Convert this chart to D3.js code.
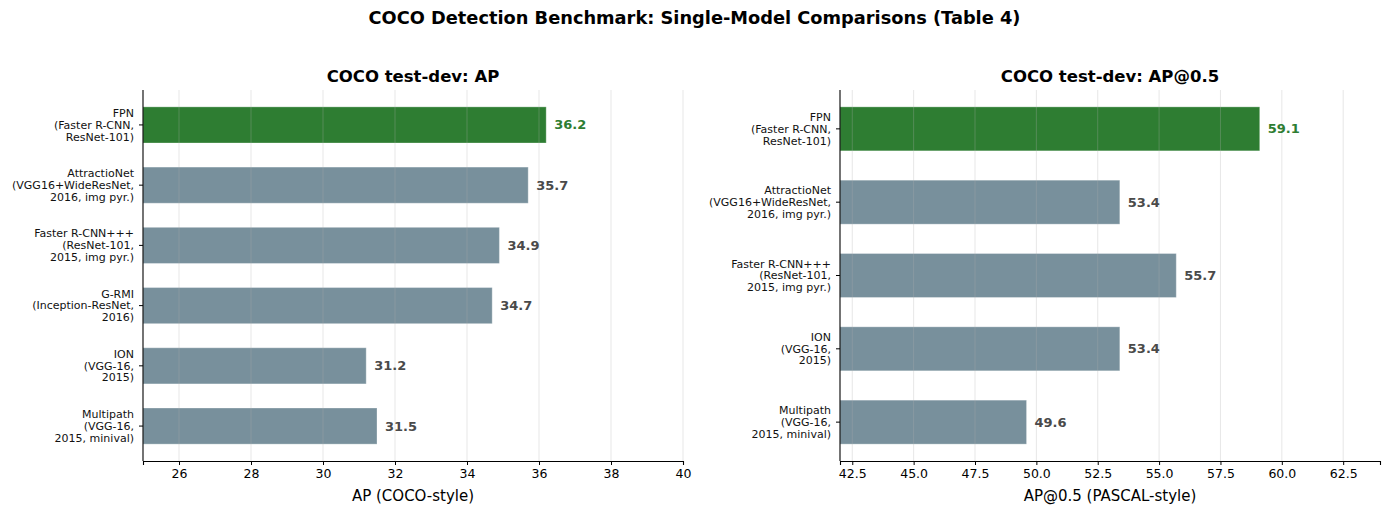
<!DOCTYPE html>
<html>
<head>
<meta charset="utf-8">
<script src="https://cdn.jsdelivr.net/npm/d3@7"></script>
<style>
  body { margin: 0; background: #fff; }
  text { font-family: "DejaVu Sans", sans-serif; }
</style>
</head>
<body>
<div id="chart"></div>
<script>
// left panel: AP
const apModels = [
    ['FPN', '(Faster R-CNN,', 'ResNet-101)'],
    ['AttractioNet', '(VGG16+WideResNet,', '2016, img pyr.)'],
    ['Faster R-CNN+++', '(ResNet-101,', '2015, img pyr.)'],
    ['G-RMI', '(Inception-ResNet,', '2016)'],
    ['ION', '(VGG-16,', '2015)'],
    ['Multipath', '(VGG-16,', '2015, minival)']
];
const apValues = [36.2, 35.7, 34.9, 34.7, 31.2, 31.5];
const apTicks = [26, 28, 30, 32, 34, 36, 38, 40];

// right panel: AP@0.5
const ap50Models = [
    ['FPN', '(Faster R-CNN,', 'ResNet-101)'],
    ['AttractioNet', '(VGG16+WideResNet,', '2016, img pyr.)'],
    ['Faster R-CNN+++', '(ResNet-101,', '2015, img pyr.)'],
    ['ION', '(VGG-16,', '2015)'],
    ['Multipath', '(VGG-16,', '2015, minival)']
];
const ap50Values = [59.1, 53.4, 55.7, 53.4, 49.6];
const ap50Ticks = [42.5, 45, 47.5, 50, 52.5, 55, 57.5, 60, 62.5];

const W = 1389, H = 515;
const green = '#2e7d32', gray = '#78909c';

var svg = d3.select('#chart')
    .append('svg')
    .attr('width', W)
    .attr('height', H);

svg.append('text')
    .attr('x', W / 2).attr('y', 24)
    .attr('text-anchor', 'middle')
    .attr('font-size', 17.8).attr('font-weight', 'bold')
    .text('COCO Detection Benchmark: Single-Model Comparisons (Table 4)');

function drawPanel(cfg){
    var x = d3.scaleLinear().domain(cfg.domain).range([cfg.left, cfg.right]);
    var n = cfg.values.length;
    var h = 0.6, pad = (n - 1 + h) * 0.05;
    // index 0 at the top, margins like matplotlib
    var y = d3.scaleLinear()
        .domain([-h / 2 - pad, n - 1 + h / 2 + pad])
        .range([cfg.top, cfg.bottom]);
    var unit = y(1) - y(0);
    var g = svg.append('g');

    // bars
    g.selectAll('rect.bar')
        .data(cfg.values)
        .enter()
        .append('rect')
        .attr('x', x(cfg.domain[0]))
        .attr('y', (d, i) => y(i) - unit * h / 2)
        .attr('width', d => x(d) - x(cfg.domain[0]))
        .attr('height', unit * h)
        .attr('fill', (d, i) => i === 0 ? green : gray)
        .attr('stroke', '#fff').attr('stroke-opacity', 0.3).attr('stroke-width', 1);

    // grid (drawn faintly over the bars)
    g.selectAll('line.grid')
        .data(cfg.ticks)
        .enter()
        .append('line')
        .attr('x1', d => x(d)).attr('x2', d => x(d))
        .attr('y1', cfg.top).attr('y2', cfg.bottom)
        .attr('stroke', '#b0b0b0').attr('stroke-opacity', 0.3).attr('stroke-width', 1);

    // value labels
    g.selectAll('text.val')
        .data(cfg.values)
        .enter()
        .append('text')
        .attr('x', d => x(d) + 8)
        .attr('y', (d, i) => y(i))
        .attr('dy', '0.35em')
        .attr('font-size', 13).attr('font-weight', 'bold')
        .attr('fill', (d, i) => i === 0 ? green : '#4a4a4a')
        .text(d => d.toFixed(1));

    // x axis
    var xAxis = g.append('g')
        .attr('transform', 'translate(0,' + cfg.bottom + ')')
        .call(d3.axisBottom(x).tickValues(cfg.ticks).tickSizeOuter(0).tickSize(4).tickPadding(4)
            .tickFormat(cfg.fmt));
    xAxis.selectAll('text').attr('font-size', 12.5).attr('fill', '#000').attr('font-family', '"DejaVu Sans", sans-serif');
    xAxis.selectAll('line').attr('stroke', '#000');
    xAxis.select('.domain').attr('stroke', '#000').attr('stroke-width', 1.1);

    // y axis line and ticks
    g.append('line')
        .attr('x1', cfg.left).attr('x2', cfg.left)
        .attr('y1', cfg.top).attr('y2', cfg.bottom)
        .attr('stroke', '#000').attr('stroke-width', 1.1);
    var yt = g.selectAll('g.ytick')
        .data(cfg.models)
        .enter()
        .append('g')
        .attr('transform', (d, i) => 'translate(' + cfg.left + ',' + y(i) + ')');
    yt.append('line').attr('x1', -4).attr('x2', 0).attr('stroke', '#000');
    yt.append('text')
        .attr('text-anchor', 'end')
        .attr('font-size', 11)
        .attr('fill', '#111')
        .selectAll('tspan')
        .data(d => d)
        .enter()
        .append('tspan')
        .attr('x', -9)
        .attr('y', (d, i) => (i - 1) * 11.8)
        .attr('dy', '0.35em')
        .text(d => d);

    svg.append('text')
        .attr('x', (cfg.left + cfg.right) / 2).attr('y', cfg.top - 8)
        .attr('text-anchor', 'middle')
        .attr('font-size', 16.5).attr('font-weight', 'bold')
        .text(cfg.title);
    svg.append('text')
        .attr('x', (cfg.left + cfg.right) / 2).attr('y', 501)
        .attr('text-anchor', 'middle')
        .attr('font-size', 15)
        .text(cfg.xlabel);
}

drawPanel({
    models: apModels, values: apValues, ticks: apTicks,
    domain: [25, 40], left: 143, right: 683, top: 90, bottom: 461,
    title: 'COCO test-dev: AP', xlabel: 'AP (COCO-style)',
    fmt: d => d
});
drawPanel({
    models: ap50Models, values: ap50Values, ticks: ap50Ticks,
    domain: [42, 64], left: 840, right: 1380, top: 90, bottom: 461,
    title: 'COCO test-dev: AP@0.5', xlabel: 'AP@0.5 (PASCAL-style)',
    fmt: d3.format('.1f')
});
</script>
</body>
</html>
